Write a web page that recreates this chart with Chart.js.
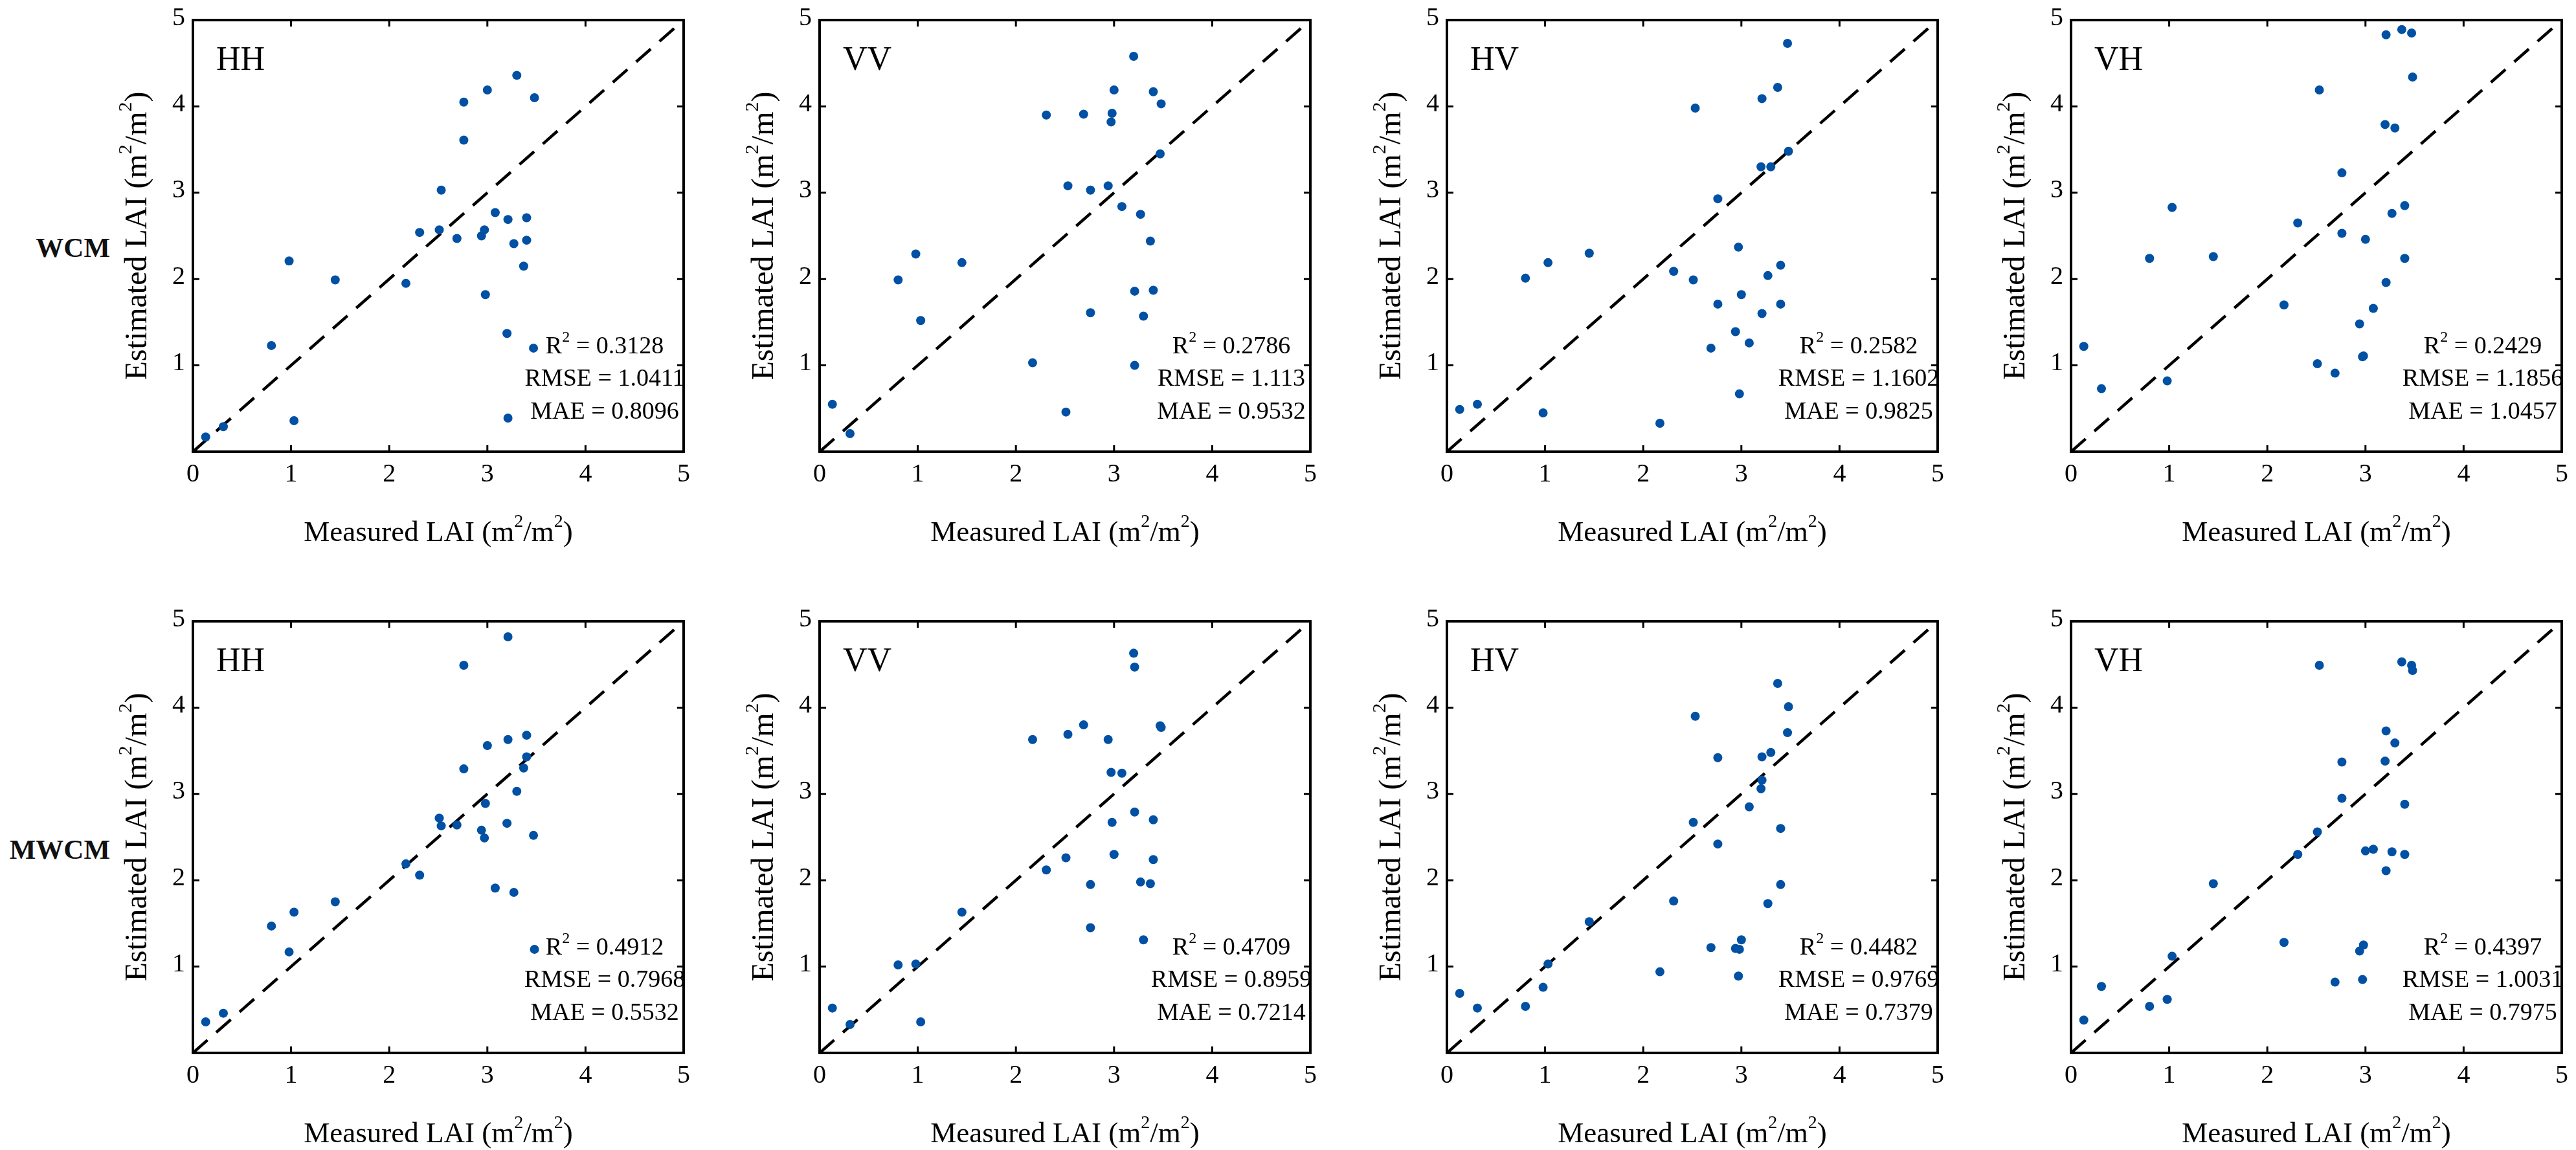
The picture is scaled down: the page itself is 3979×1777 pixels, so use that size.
<!DOCTYPE html>
<html>
<head>
<meta charset="utf-8">
<script src="https://cdn.jsdelivr.net/npm/chart.js@4.4.1/dist/chart.umd.min.js"></script>
<style>
    html, body { margin: 0; padding: 0; background: #fff; width: 3979px; height: 1777px; overflow: hidden; position: relative; }
    canvas { position: absolute; }
    .rowlabel { position: absolute; font-family: "Liberation Serif", serif; font-weight: bold; font-size: 43px; color: #111; text-align: right; width: 170px; left: 0; line-height: 1; }
</style>
</head>
<body>
<div class="rowlabel" style="top:361px;">WCM</div>
<div class="rowlabel" style="top:1291px;">MWCM</div>
<script>
// --- datos ---
const measured = [0.13, 0.31, 0.80, 0.98, 1.03, 1.45, 2.17, 2.31, 2.51, 2.53, 2.69, 2.76, 2.76, 2.94,
                  2.97, 2.98, 3.00, 3.08, 3.20, 3.21, 3.21, 3.27, 3.30, 3.37, 3.40, 3.40, 3.47, 3.48];

const wcmHH = [0.17, 0.29, 1.23, 2.21, 0.36, 1.99, 1.95, 2.54, 2.57, 3.03, 2.47, 4.05, 3.61, 2.50,
               2.57, 1.82, 4.19, 2.77, 1.37, 2.69, 0.39, 2.41, 4.36, 2.15, 2.71, 2.45, 1.20, 4.10];
const wcmVV = [0.55, 0.21, 1.99, 2.29, 1.52, 2.19, 1.03, 3.90, 0.46, 3.08, 3.91, 3.03, 1.61, 3.08,
               3.82, 3.92, 4.19, 2.84, 4.58, 1.86, 1.00, 2.75, 1.57, 2.44, 4.17, 1.87, 3.45, 4.03];
const wcmHV = [0.49, 0.55, 2.01, 0.45, 2.19, 2.30, 0.33, 2.09, 1.99, 3.98, 1.20, 2.93, 1.71, 1.39,
               2.37, 0.67, 1.82, 1.26, 3.30, 4.09, 1.60, 2.04, 3.30, 4.22, 1.71, 2.16, 4.73, 3.48];
const wcmVH = [1.22, 0.73, 2.24, 0.82, 2.83, 2.26, 1.70, 2.65, 1.02, 4.19, 0.91, 3.23, 2.53, 1.48,
               1.10, 1.11, 2.46, 1.66, 3.79, 4.83, 1.96, 2.76, 3.75, 4.89, 2.85, 2.24, 4.85, 4.34];
const mwcmHH = [0.36, 0.46, 1.47, 1.17, 1.63, 1.75, 2.19, 2.06, 2.72, 2.63, 2.64, 4.49, 3.29, 2.58,
                2.49, 2.89, 3.56, 1.91, 2.66, 4.82, 3.63, 1.86, 3.03, 3.30, 3.43, 3.68, 2.52, 1.20];
const mwcmVV = [0.52, 0.33, 1.02, 1.03, 0.36, 1.63, 3.63, 2.12, 2.26, 3.69, 3.80, 1.95, 1.45, 3.63,
                3.25, 2.67, 2.30, 3.24, 4.63, 4.47, 2.79, 1.98, 1.31, 1.96, 2.70, 2.24, 3.79, 3.77];
const mwcmHV = [0.69, 0.52, 0.54, 0.76, 1.03, 1.52, 0.94, 1.76, 2.67, 3.90, 1.22, 3.42, 2.42, 1.21,
                0.89, 1.20, 1.31, 2.85, 3.06, 3.43, 3.16, 1.73, 3.48, 4.28, 2.60, 1.95, 3.71, 4.01];
const mwcmVH = [0.38, 0.77, 0.54, 0.62, 1.12, 1.96, 1.28, 2.30, 2.56, 4.49, 0.82, 3.37, 2.95, 1.18,
                0.85, 1.25, 2.34, 2.36, 3.38, 3.73, 2.11, 2.33, 3.59, 4.53, 2.88, 2.30, 4.49, 4.43];

const polarizations = ['HH', 'VV', 'HV', 'VH'];
const estimated = [wcmHH, wcmVV, wcmHV, wcmVH, mwcmHH, mwcmVV, mwcmHV, mwcmVH];
const statsR2 = ['0.3128', '0.2786', '0.2582', '0.2429', '0.4912', '0.4709', '0.4482', '0.4397'];
const statsRMSE = ['1.0411', '1.113', '1.1602', '1.1856', '0.7968', '0.8959', '0.9769', '1.0031'];
const statsMAE = ['0.8096', '0.9532', '0.9825', '1.0457', '0.5532', '0.7214', '0.7379', '0.7975'];
const xTicks = [0, 1, 2, 3, 4, 5];
const yTicks = [1, 2, 3, 4, 5];

// posiciones de los paneles (area de la grafica)
const panelX = [298, 1266, 2235, 3199];
const rowTop = [31, 960];
const PAD = { left: 150, top: 31, right: 25, bottom: 150 };
const AREA_W = 758, AREA_H = 667;
const SERIF = '"Liberation Serif", "Times New Roman", serif';

// texto con superindices: partes [texto, esSuper]
function drawRich(ctx, parts, x, y, size) {
    const supSize = Math.round(size * 0.62);
    const widthOf = ([t, sup]) => { ctx.font = `${sup ? supSize : size}px ${SERIF}`; return ctx.measureText(t).width; };
    const total = parts.reduce((s, p) => s + widthOf(p), 0);
    let cx = x - total / 2;
    ctx.textAlign = 'left';
    parts.forEach(p => {
        const w = widthOf(p);
        ctx.fillText(p[0], cx, p[1] ? y - size * 0.38 : y);
        cx += w;
    });
}
const unitParts = [[' (m', false], ['2', true], ['/m', false], ['2', true], [')', false]];

// Plugin: marco, ticks hacia dentro, etiquetas y textos
const framePlugin = {
    id: 'frame',
    afterDraw(chart, args, opts) {
        const ctx = chart.ctx;
        const { left, right, top, bottom } = chart.chartArea;
        const sx = chart.scales.x, sy = chart.scales.y;
        ctx.save();
        ctx.strokeStyle = '#000';
        ctx.lineWidth = 4;
        ctx.strokeRect(left, top, right - left, bottom - top);

        ctx.lineWidth = 3;
        ctx.fillStyle = '#000';
        ctx.font = `40px ${SERIF}`;
        ctx.textAlign = 'center';
        ctx.textBaseline = 'middle';
        xTicks.forEach(v => {
            const px = sx.getPixelForValue(v);
            ctx.beginPath();
            ctx.moveTo(px, bottom); ctx.lineTo(px, bottom - 10);
            ctx.moveTo(px, top); ctx.lineTo(px, top + 10);
            ctx.stroke();
            ctx.fillText(String(v), px, bottom + 35);
        });
        ctx.textAlign = 'right';
        yTicks.forEach(v => {
            const py = sy.getPixelForValue(v);
            ctx.beginPath();
            ctx.moveTo(left, py); ctx.lineTo(left + 10, py);
            ctx.moveTo(right, py); ctx.lineTo(right - 10, py);
            ctx.stroke();
            ctx.fillText(String(v), left - 12, py - 3);
        });

        // titulos de ejes
        drawRich(ctx, [['Measured LAI', false], ...unitParts], (left + right) / 2, bottom + 126, 45);
        ctx.save();
        ctx.translate(left - 85, (top + bottom) / 2);
        ctx.rotate(-Math.PI / 2);
        drawRich(ctx, [['Estimated LAI', false], ...unitParts], 0, 0, 48);
        ctx.restore();

        // etiqueta del panel
        ctx.textAlign = 'left';
        ctx.font = `52px ${SERIF}`;
        ctx.fillText(opts.label, left + 36, top + 63);

        // estadisticos
        const cx = left + 636;
        drawRich(ctx, [['R', false], ['2', true], [' = ' + opts.r2, false]], cx, top + 505, 38);
        drawRich(ctx, [['RMSE = ' + opts.rmse, false]], cx, top + 555, 38);
        drawRich(ctx, [['MAE = ' + opts.mae, false]], cx, top + 606, 38);
        ctx.restore();
    }
};

estimated.forEach((est, i) => {
    const row = Math.floor(i / 4), col = i % 4;
    const canvas = document.createElement('canvas');
    const w = PAD.left + AREA_W + PAD.right, h = PAD.top + AREA_H + PAD.bottom;
    canvas.width = w; canvas.height = h;
    canvas.style.left = (panelX[col] - PAD.left) + 'px';
    canvas.style.top = (rowTop[row] - PAD.top) + 'px';
    canvas.style.width = w + 'px'; canvas.style.height = h + 'px';
    document.body.appendChild(canvas);

    new Chart(canvas.getContext('2d'), {
        type: 'scatter',
        data: {
            datasets: [
                {
                    label: 'Estimado',
                    data: measured.map((m, k) => ({ x: m, y: est[k] })),
                    backgroundColor: '#0050a4',
                    borderWidth: 0,
                    pointRadius: 7
                },
                {
                    type: 'line',
                    label: '1:1',
                    data: [{ x: 0, y: 0 }, { x: 5, y: 5 }],
                    borderColor: '#000',
                    borderWidth: 4.5,
                    borderDash: [30, 18],
                    pointRadius: 0,
                    fill: false
                }
            ]
        },
        options: {
            responsive: false,
            animation: false,
            devicePixelRatio: 1,
            layout: { padding: PAD },
            plugins: {
                legend: { display: false },
                tooltip: { enabled: false },
                frame: { label: polarizations[col], r2: statsR2[i], rmse: statsRMSE[i], mae: statsMAE[i] }
            },
            scales: {
                x: { type: 'linear', min: 0, max: 5, display: false },
                y: { type: 'linear', min: 0, max: 5, display: false }
            }
        },
        plugins: [framePlugin]
    });
});
</script>
</body>
</html>
